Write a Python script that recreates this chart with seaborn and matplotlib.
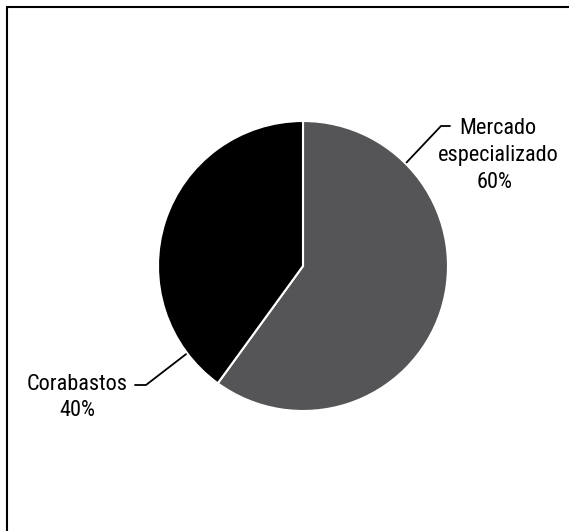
import numpy as np
import matplotlib
matplotlib.use("Agg")
import matplotlib.pyplot as plt
import seaborn as sns
from matplotlib.lines import Line2D

labels = ["Mercado\nespecializado", "Corabastos"]
values = [60, 40]
pct_labels = ["60%", "40%"]
colors = ["#555557", "#000000"]

sns.set_theme(style="white")
plt.rcParams['font.family'] = ['Roboto Condensed', 'DejaVu Sans']
plt.rcParams['text.color'] = 'black'

W, H = 569, 531
fig = plt.figure(figsize=(W / 100, H / 100), dpi=100)
ax = fig.add_axes([0, 0, 1, 1])
ax.axis("off")

cx, cy, r = 303, H - 266, 145
wedges, _ = ax.pie(values, colors=colors, startangle=90, counterclock=False,
                   center=(cx, cy), radius=r,
                   wedgeprops=dict(edgecolor="white", linewidth=1.5))
ax.set_xlim(0, W)
ax.set_ylim(0, H)
ax.set_aspect("equal")

fs = 16
# Mercado especializado label
a = np.deg2rad(45)
sx, sy = cx + r * 1.01 * np.cos(a), cy + r * 1.01 * np.sin(a)
ax.plot([sx, 441, 450], [sy, H - 126, H - 126], color="black", lw=1.3)
ax.text(498, H - 128, labels[0].split("\n")[0], ha="center", va="center", fontsize=fs)
ax.text(498, H - 156, labels[0].split("\n")[1], ha="center", va="center", fontsize=fs)
ax.text(495, H - 183, pct_labels[0], ha="center", va="center", fontsize=fs)

# Corabastos label
a = np.deg2rad(217)
sx, sy = cx + r * 1.01 * np.cos(a), cy + r * 1.01 * np.sin(a)
ax.plot([sx, 146, 135], [sy, H - 385, H - 385], color="black", lw=1.3)
ax.text(77, H - 384, labels[1], ha="center", va="center", fontsize=fs)
ax.text(77, H - 411, pct_labels[1], ha="center", va="center", fontsize=fs)

# frame (top and left only)
fig.add_artist(Line2D([6.5 / W, 6.5 / W], [0, 1 - 6.5 / H], transform=fig.transFigure, color="black", lw=1.5))
fig.add_artist(Line2D([6.5 / W, 1], [1 - 6.5 / H, 1 - 6.5 / H], transform=fig.transFigure, color="black", lw=1.5))

fig.savefig("out.png", dpi=100)
